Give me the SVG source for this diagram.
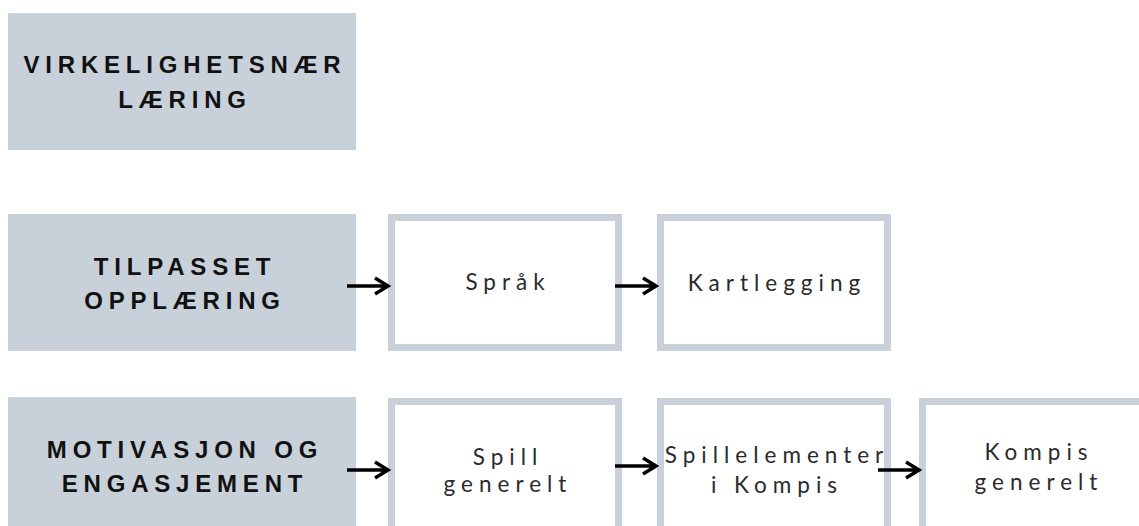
<svg xmlns="http://www.w3.org/2000/svg" width="1139" height="526" viewBox="0 0 1139 526">
  <defs>
    <style>
      .cat { fill: #c8d0da; }
      .item { fill: #ffffff; stroke: #c8d0da; stroke-width: 7; }
      .head { font-family: "Liberation Sans", Arial, sans-serif; font-weight: bold; font-size: 24px; letter-spacing: 5.8px; fill: #111111; text-anchor: middle; }
      .body { font-family: Lato, "Open Sans", sans-serif; font-weight: 400; font-size: 22.5px; letter-spacing: 6px; fill: #2a2a2a; text-anchor: middle; }
      .link { fill: none; stroke: #000000; stroke-width: 3.5; stroke-linecap: butt; stroke-linejoin: miter; }
    </style>
  </defs>
  <rect width="1139" height="526" fill="#ffffff"/>

  <!-- category boxes -->
  <g id="virkelighetsnaer">
    <rect class="cat" x="8" y="13" width="348" height="137"/>
    <text class="head" x="185" y="73">VIRKELIGHETSNÆR</text>
    <text class="head" x="185" y="108">LÆRING</text>
  </g>
  <g id="tilpasset">
    <rect class="cat" x="8" y="214" width="348" height="137"/>
    <text class="head" x="185" y="275">TILPASSET</text>
    <text class="head" x="185" y="309">OPPLÆRING</text>
  </g>
  <g id="motivasjon">
    <rect class="cat" x="8" y="397" width="348" height="137"/>
    <text class="head" x="185" y="458">MOTIVASJON OG</text>
    <text class="head" x="185" y="492">ENGASJEMENT</text>
  </g>

  <!-- item boxes -->
  <g id="sprak">
    <rect class="item" x="391.5" y="217.5" width="227" height="130"/>
    <text class="body" x="508" y="290">Språk</text>
  </g>
  <g id="kartlegging">
    <rect class="item" x="660.5" y="217.5" width="227" height="130"/>
    <text class="body" x="777" y="291">Kartlegging</text>
  </g>
  <g id="spill-generelt">
    <rect class="item" x="391.5" y="401.5" width="227" height="130"/>
    <text class="body" x="508" y="465">Spill</text>
    <text class="body" x="508" y="492">generelt</text>
  </g>
  <g id="spillelementer">
    <rect class="item" x="660.5" y="401.5" width="227" height="130"/>
    <text class="body" x="777" y="463">Spillelementer</text>
    <text class="body" x="777" y="493">i Kompis</text>
  </g>
  <g id="kompis-generelt">
    <rect class="item" x="922.5" y="401.5" width="227" height="130"/>
    <text class="body" x="1039" y="460">Kompis</text>
    <text class="body" x="1039" y="490">generelt</text>
  </g>

  <!-- connectors -->
  <g id="connectors">
    <path class="link" d="M347 286 H387 M375 278 L388 286 L375 294"/>
    <path class="link" d="M615 286 H655 M643 278 L656 286 L643 294"/>
    <path class="link" d="M347 470 H387 M375 462 L388 470 L375 478"/>
    <path class="link" d="M615 466 H655 M643 458 L656 466 L643 474"/>
    <path class="link" d="M878 470 H918 M906 462 L919 470 L906 478"/>
  </g>
</svg>
